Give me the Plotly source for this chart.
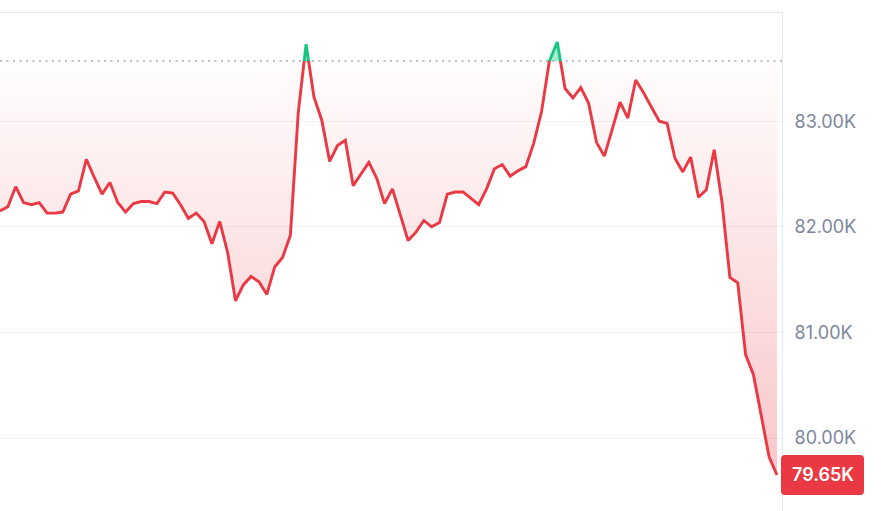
import plotly.graph_objects as go

# Price series in thousands (K)
prices_k = [82.15, 82.19, 82.38, 82.23, 82.21, 82.23, 82.13, 82.13, 82.14, 82.31,
            82.34, 82.64, 82.47, 82.31, 82.42, 82.23, 82.14, 82.22, 82.24, 82.24,
            82.22, 82.33, 82.32, 82.21, 82.08, 82.13, 82.05, 81.84, 82.05, 81.76,
            81.30, 81.45, 81.53, 81.48, 81.36, 81.62, 81.71, 81.92, 83.08, 83.73,
            83.23, 83.01, 82.62, 82.77, 82.82, 82.39, 82.50, 82.61, 82.46, 82.22,
            82.36, 82.12, 81.87, 81.95, 82.06, 82.00, 82.04, 82.31, 82.33, 82.33,
            82.27, 82.21, 82.36, 82.55, 82.59, 82.48, 82.53, 82.57, 82.79, 83.09,
            83.57, 83.75, 83.31, 83.22, 83.32, 83.17, 82.80, 82.67, 82.92, 83.18,
            83.03, 83.39, 83.27, 83.13, 83.00, 82.98, 82.65, 82.52, 82.66, 82.28,
            82.35, 82.73, 82.23, 81.52, 81.47, 80.79, 80.60, 80.21, 79.82, 79.65]
baseline_k = 83.57
last_label = "79.65K"
tick_vals = [80, 81, 82, 83]
tick_text = ["80.00K", "81.00K", "82.00K", "83.00K"]

RED = "#ea3943"
GREEN = "#16c784"
AXIS_TEXT = "#7d879b"
GRID = "#eff2f5"
BORDER = "#e3e6eb"

x = list(range(len(prices_k)))
y_min, y_max = 79.309, 84.025
x_max = 99.64
d = (baseline_k - y_min) / (y_max - y_min)

fig = go.Figure()

# baseline helper for the fill
fig.add_trace(go.Scatter(x=x, y=[baseline_k] * len(x), mode="lines",
                         line=dict(width=0), hoverinfo="skip", showlegend=False))
# fill between price and baseline (red below, green above)
fig.add_trace(go.Scatter(
    x=x, y=prices_k, mode="lines", line=dict(width=0), fill="tonexty",
    fillgradient=dict(type="vertical", start=y_min, stop=y_max,
                      colorscale=[[0, "rgba(234,57,67,0.31)"],
                                  [d - 1e-4, "rgba(234,57,67,0.01)"],
                                  [d, "rgba(22,199,132,0.35)"],
                                  [1, "rgba(22,199,132,0.45)"]]),
    hoverinfo="skip", showlegend=False))

# red line (clipped below baseline) and green line (clipped above)
fig.add_trace(go.Scatter(x=x, y=prices_k, mode="lines", yaxis="y3",
                         line=dict(color=RED, width=2.9), showlegend=False))
fig.add_trace(go.Scatter(x=x, y=prices_k, mode="lines", yaxis="y2",
                         line=dict(color=GREEN, width=2.9), showlegend=False))

fig.add_shape(type="line", xref="paper", x0=0, x1=1, yref="y",
              y0=baseline_k, y1=baseline_k, layer="below",
              line=dict(color="#a3abb9", width=1.5, dash="2px,4.5px"))

# rounded badge behind the last-price label
fig.add_shape(type="path", xref="paper", yref="y",
              xsizemode="pixel", ysizemode="pixel",
              xanchor=1, yanchor=prices_k[-1],
              path="M 3,-20 L 78,-20 Q 82,-20 82,-16 L 82,16 Q 82,20 78,20 "
                   "L 3,20 Q -1,20 -1,16 L -1,-16 Q -1,-20 3,-20 Z",
              fillcolor=RED, line=dict(width=0), layer="above")

fig.add_annotation(x=1, xref="paper", y=prices_k[-1], yref="y",
                   xanchor="center", yanchor="middle", xshift=40.5,
                   text=last_label, showarrow=False,
                   font=dict(family="Inter", size=18, color="white", weight=600))

fig.update_layout(
    width=882, height=511,
    margin=dict(l=0, r=100, t=13, b=0),
    paper_bgcolor="white", plot_bgcolor="rgba(0,0,0,0)",
    showlegend=False,
    xaxis=dict(range=[0, x_max], showgrid=False, zeroline=False,
               showticklabels=False, ticks="", side="top",
               showline=True, linecolor=BORDER, linewidth=1, anchor="y"),
    yaxis=dict(range=[y_min, y_max], side="right", anchor="x",
               tickvals=tick_vals, ticktext=tick_text,
               tickfont=dict(family="Inter", size=18, color=AXIS_TEXT),
               ticks="outside", ticklen=8, tickcolor="rgba(0,0,0,0)",
               showgrid=True, gridcolor=GRID, gridwidth=1, zeroline=False,
               showline=True, linecolor=BORDER, linewidth=1),
    yaxis2=dict(range=[baseline_k, y_max], domain=[d, 1], anchor="x",
                visible=False),
    yaxis3=dict(range=[y_min, baseline_k], domain=[0, d], anchor="x",
                visible=False),
)

fig.write_html("out.html", config={"displayModeBar": False},
               post_script="document.body.style.margin='0';")
